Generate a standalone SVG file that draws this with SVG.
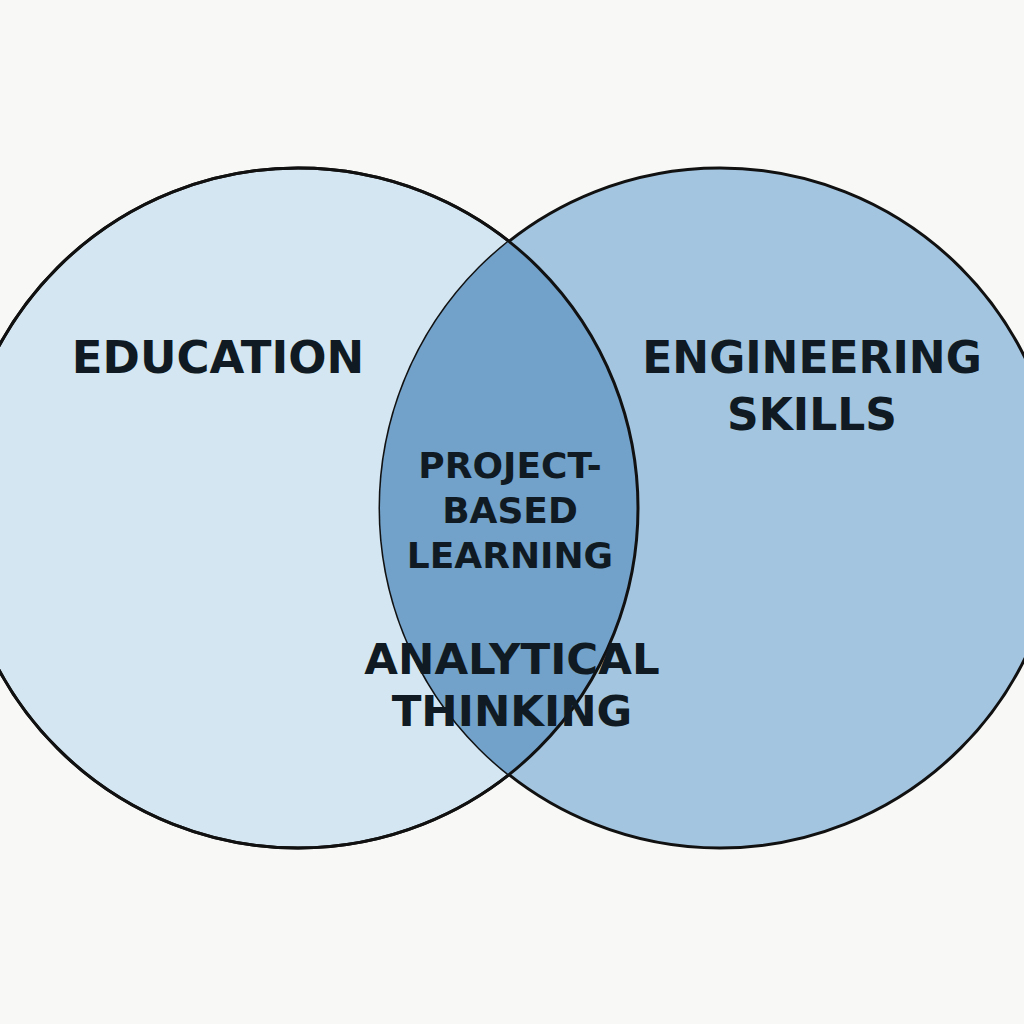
<svg xmlns="http://www.w3.org/2000/svg" width="1024" height="1024" viewBox="0 0 1024 1024">
<style>
.t{font-family:"DejaVu Sans","Liberation Sans",sans-serif;font-weight:bold;fill:#0f1a22;text-anchor:middle}
.c{stroke:#111;stroke-width:3}
</style>
<defs>
<clipPath id="cl"><circle cx="298" cy="508" r="340"/></clipPath>
</defs>
<rect width="1024" height="1024" fill="#f8f8f6"/>
<g id="education"><circle class="c" cx="298" cy="508" r="340" fill="#d4e6f1"/></g>
<g id="engineering"><circle class="c" cx="720" cy="508" r="340" fill="#a3c5e0"/></g>
<g id="overlap"><circle cx="720" cy="508" r="340" fill="#72a1c9" clip-path="url(#cl)"/>
<circle cx="298" cy="508" r="340" fill="none" class="c"/></g>
<g id="labels">
<text class="t" x="218" y="373" font-size="45">EDUCATION</text>
<text class="t" x="812" y="373" font-size="44">ENGINEERING</text>
<text class="t" x="812" y="430" font-size="44">SKILLS</text>
<text class="t" x="510" y="478" font-size="36">PROJECT-</text>
<text class="t" x="510" y="523" font-size="36">BASED</text>
<text class="t" x="510" y="568" font-size="36">LEARNING</text>
<text class="t" x="512" y="674" font-size="43.5">ANALYTICAL</text>
<text class="t" x="512" y="726" font-size="43.5">THINKING</text>
</g>
</svg>
